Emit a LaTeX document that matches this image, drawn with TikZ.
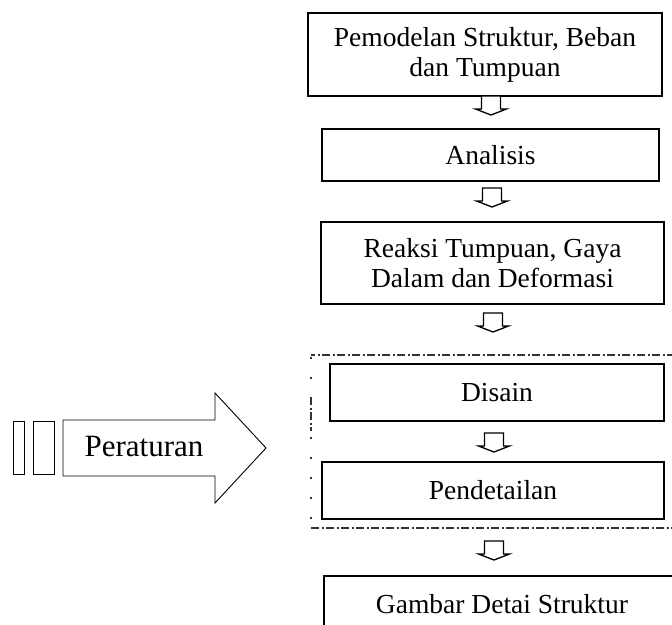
\documentclass[tikz,border=0pt]{standalone}
\usepackage{fontspec}
\setmainfont{Liberation Serif}
\begin{document}
\begin{tikzpicture}[x=1pt,y=-1pt,
  box/.style={draw=black, line width=1.5pt, rectangle, align=center, inner sep=0pt,
    font=\fontsize{27.5}{30}\selectfont},
  thinline/.style={draw=black, line width=0.9pt},
  arrline/.style={draw=black, line width=1.3pt},
  dashbox/.style={draw=black!80, line width=1.2pt, dash pattern=on 8pt off 2.5pt on 2pt off 2.5pt},
  dnarrow/.pic={\draw[arrline, fill=white] (-9.5,0) -- (-9.5,13) -- (-15.5,13) -- (0,19) -- (15.5,13) -- (9.5,13) -- (9.5,0) -- cycle;}
]
\useasboundingbox (0,0) rectangle (672,624);
\clip (0,0) rectangle (672,624);

% main boxes
\node[box, minimum width=354pt, minimum height=83pt] (b1) at (485,54.5) {Pemodelan Struktur, Beban\\dan Tumpuan};
\node[box, minimum width=337pt, minimum height=52pt] (b2) at (490.5,155) {Analisis};
\node[box, minimum width=343pt, minimum height=82pt] (b3) at (492.5,263) {Reaksi Tumpuan, Gaya\\Dalam dan Deformasi};
\node[box, minimum width=334pt, minimum height=57pt] (b4) at (497,392.5) {Disain};
\node[box, minimum width=342pt, minimum height=57pt] (b5) at (493,490.5) {Pendetailan};
\node[box, minimum width=356pt, minimum height=56pt] (b6) at (502,604) {Gambar Detai Struktur};

% block arrows between boxes
\coordinate (c1) at (491,96);
\coordinate (c2) at (492,188);
\coordinate (c3) at (493,313);
\coordinate (c4) at (494,433);
\coordinate (c5) at (494,541);
\pic at (c1) {dnarrow};
\pic at (c2) {dnarrow};
\pic at (c3) {dnarrow};
\pic at (c4) {dnarrow};
\pic at (c5) {dnarrow};

% dash-dot group frame (open on the right)
\coordinate (g1) at (675,355);
\coordinate (g2) at (311,355);
\coordinate (g3) at (311,528);
\coordinate (g4) at (675,528);
\draw[dashbox] (g1) -- (g2);
\draw[dashbox] (g3) -- (g4);
\draw[draw=black!80, line width=1.3pt, dash pattern=on 1.5pt off 18.5pt] (311,357) -- (g3);
\draw[dashbox] (311,397) -- (311,431);

% Peraturan arrow
\draw[thinline] (63,420) -- (215,420) -- (215,393) -- (266,448) -- (215,503) -- (215,476) -- (63,476) -- cycle;
\node[font=\fontsize{31}{36}\selectfont, inner sep=0pt] (per) at (144,446) {Peraturan};
\node[thinline, rectangle, minimum width=11pt, minimum height=53pt, inner sep=0pt] (r1) at (18.5,447.5) {};
\node[thinline, rectangle, minimum width=21pt, minimum height=53pt, inner sep=0pt] (r2) at (43.5,447.5) {};
\end{tikzpicture}
\end{document}
